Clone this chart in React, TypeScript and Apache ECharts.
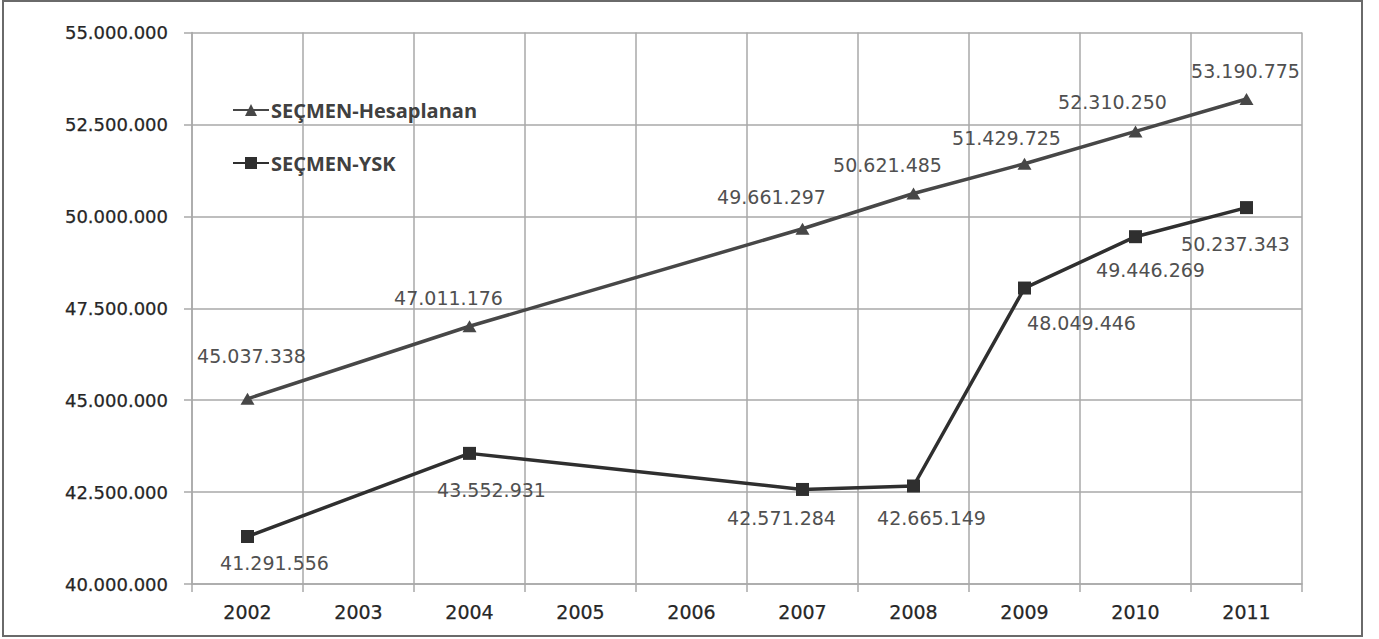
import React, { useEffect, useRef } from "react";
import * as echarts from "echarts";

const YEARS = ["2002", "2003", "2004", "2005", "2006", "2007", "2008", "2009", "2010", "2011"];
const HESAPLANAN = [45037338, null, 47011176, null, null, 49661297, 50621485, 51429725, 52310250, 53190775];
const YSK = [41291556, null, 43552931, null, null, 42571284, 42665149, 48049446, 49446269, 50237343];
const SERIES_NAMES = ["SEÇMEN-Hesaplanan", "SEÇMEN-YSK"];
const Y_MIN = 40000000;
const Y_MAX = 55000000;
const Y_STEP = 2500000;

// label placement offsets (styling, not data)
const HES_LABEL_OFFSETS: (number[] | null)[] = [[4, -43], null, [-21, -28], null, null, [-31, -32], [-26, -28], [-18, -26], [-23, -29], [-1, -28]];
const YSK_LABEL_OFFSETS: (number[] | null)[] = [[27, 26], null, [22, 37], null, null, [-21, 29], [18, 32], [57, 35], [15, 33], [-11, 36]];

const fmt = (v: number) => String(Math.round(v)).replace(/\B(?=(\d{3})+(?!\d))/g, ".");

const GRID = "#a9a9a9";

function buildData(values: (number | null)[], offsets: (number[] | null)[]) {
  return values.map((v, i) =>
    v == null
      ? null
      : {
          value: v,
          label: { offset: offsets[i] || [0, 0] },
        }
  );
}

export default function App() {
  const ref = useRef<HTMLDivElement>(null);
  useEffect(() => {
    if (!ref.current) return;
    const chart = echarts.init(ref.current, null, { renderer: "svg" });
    const labelStyle = {
      show: true,
      position: "inside" as const,
      fontFamily: "DejaVu Sans",
      fontSize: 19,
      color: "#505050",
      formatter: (p: any) => fmt(p.value),
    };
    const axisText = {
      fontFamily: "DejaVu Sans",
      color: "#262626",
      textBorderColor: "#262626",
      textBorderWidth: 0.25,
    };
    chart.setOption({
      animation: false,
      backgroundColor: "#ffffff",
      grid: { left: 192, right: 77, top: 32.5, bottom: 55 },
      graphic: [
        {
          type: "rect",
          shape: { x: 3, y: 1, width: 1359, height: 635 },
          style: { fill: "none", stroke: "#6a6a6a", lineWidth: 2 },
          silent: true,
        },
      ],
      legend: {
        orient: "vertical",
        left: 227,
        top: 95,
        itemWidth: 36,
        itemHeight: 15,
        itemGap: 33,
        data: SERIES_NAMES,
        textStyle: {
          fontFamily: "Open Sans",
          fontWeight: "bold",
          fontSize: 20,
          color: "#404040",
          lineHeight: 15,
          padding: [0, 0, 0, -3],
        },
      },
      xAxis: {
        type: "category",
        data: YEARS,
        boundaryGap: true,
        axisLine: { show: true, lineStyle: { color: GRID, width: 1.5 } },
        axisTick: { show: true, length: 8, lineStyle: { color: GRID, width: 1.5 } },
        splitLine: { show: true, lineStyle: { color: GRID, width: 1.5 } },
        axisLabel: { margin: 18, fontSize: 19, ...axisText },
      },
      yAxis: {
        type: "value",
        min: Y_MIN,
        max: Y_MAX,
        interval: Y_STEP,
        axisLine: { show: true, lineStyle: { color: GRID, width: 1.5 } },
        axisTick: { show: true, length: 8, lineStyle: { color: GRID, width: 1.5 } },
        splitLine: { show: true, lineStyle: { color: GRID, width: 1.5 } },
        axisLabel: { margin: 24, fontSize: 18, formatter: (v: number) => fmt(v), ...axisText },
      },
      series: [
        {
          name: SERIES_NAMES[0],
          type: "line",
          data: buildData(HESAPLANAN, HES_LABEL_OFFSETS),
          connectNulls: true,
          symbol: "triangle",
          symbolSize: [14, 12],
          itemStyle: { color: "#474747" },
          lineStyle: { color: "#474747", width: 3.5 },
          label: labelStyle,
          z: 3,
        },
        {
          name: SERIES_NAMES[1],
          type: "line",
          data: buildData(YSK, YSK_LABEL_OFFSETS),
          connectNulls: true,
          symbol: "rect",
          symbolSize: 13,
          itemStyle: { color: "#2f2f2f" },
          lineStyle: { color: "#2f2f2f", width: 3.5 },
          label: labelStyle,
          z: 3,
        },
      ],
    });
    return () => chart.dispose();
  }, []);
  return (
    <div
      ref={ref}
      style={{ position: "fixed", left: 0, top: 0, width: 1379, height: 639, background: "#fff" }}
    />
  );
}
